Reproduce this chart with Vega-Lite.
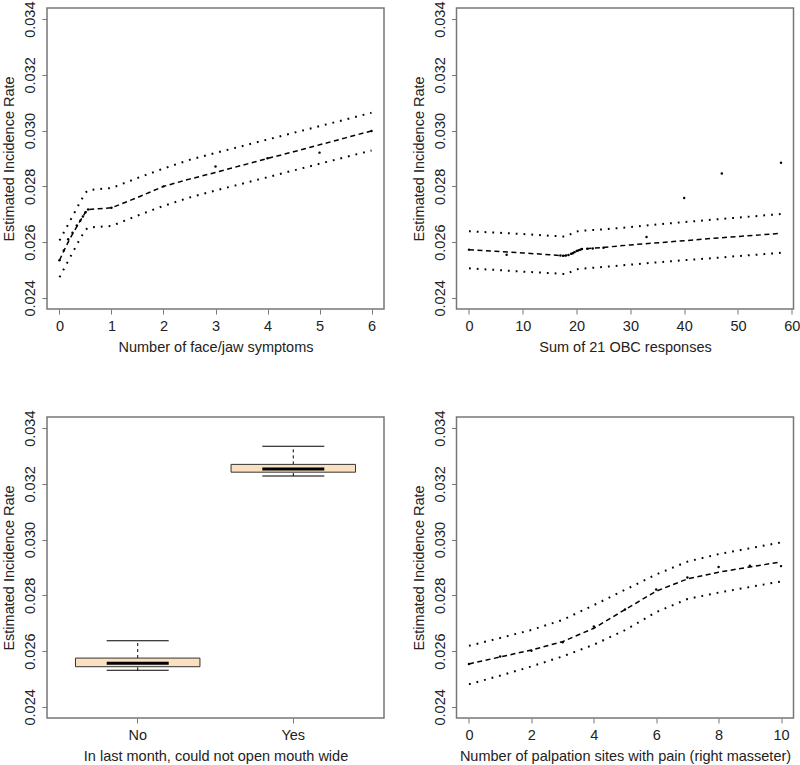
{
  "$schema": "https://vega.github.io/schema/vega-lite/v6.json",
  "background": "white",
  "padding": {"left": 0, "top": 0, "right": 0, "bottom": 2},
  "datasets": {
    "p1lines": [
      {"x": 0, "lo": 0.02474, "est": 0.02535, "hi": 0.02606},
      {"x": 0.1, "lo": 0.02509, "est": 0.02575, "hi": 0.0264},
      {"x": 0.2, "lo": 0.02544, "est": 0.02612, "hi": 0.02675},
      {"x": 0.3, "lo": 0.02579, "est": 0.02645, "hi": 0.0271},
      {"x": 0.4, "lo": 0.02614, "est": 0.02677, "hi": 0.02745},
      {"x": 0.5, "lo": 0.02643, "est": 0.02707, "hi": 0.02777},
      {"x": 0.55, "lo": 0.02652, "est": 0.02717, "hi": 0.02786},
      {"x": 0.75, "lo": 0.02655, "est": 0.0272, "hi": 0.0279},
      {"x": 1, "lo": 0.02658, "est": 0.02723, "hi": 0.02794},
      {"x": 1.5, "lo": 0.02695, "est": 0.0276, "hi": 0.0283},
      {"x": 2, "lo": 0.0273, "est": 0.028, "hi": 0.02864},
      {"x": 2.5, "lo": 0.0276, "est": 0.02826, "hi": 0.02895},
      {"x": 3, "lo": 0.02785, "est": 0.0285, "hi": 0.0292},
      {"x": 3.5, "lo": 0.02809, "est": 0.02875, "hi": 0.02944},
      {"x": 4, "lo": 0.02833, "est": 0.029, "hi": 0.02968},
      {"x": 4.5, "lo": 0.02857, "est": 0.02924, "hi": 0.02992},
      {"x": 5, "lo": 0.02881, "est": 0.02949, "hi": 0.03016},
      {"x": 5.5, "lo": 0.02905, "est": 0.02974, "hi": 0.0304},
      {"x": 6, "lo": 0.02929, "est": 0.02999, "hi": 0.03064}
    ],
    "p1pts": [
      {"x": 0, "v": 0.02535}, {"x": 0.083, "v": 0.0257}, {"x": 0.167, "v": 0.0261},
      {"x": 0.25, "v": 0.02634}, {"x": 0.333, "v": 0.0266}, {"x": 0.4, "v": 0.02677},
      {"x": 0.45, "v": 0.02692}, {"x": 0.5, "v": 0.02707}, {"x": 0.55, "v": 0.02717},
      {"x": 1, "v": 0.02723}, {"x": 2, "v": 0.028}, {"x": 3, "v": 0.02871},
      {"x": 4, "v": 0.02901}, {"x": 5, "v": 0.02921}, {"x": 6, "v": 0.02999}
    ],
    "p2lines": [
      {"x": 0, "lo": 0.02506, "est": 0.02573, "hi": 0.02639},
      {"x": 5, "lo": 0.025, "est": 0.02567, "hi": 0.02634},
      {"x": 10, "lo": 0.02494, "est": 0.02561, "hi": 0.02629},
      {"x": 15, "lo": 0.02489, "est": 0.02555, "hi": 0.02623},
      {"x": 17.5, "lo": 0.02486, "est": 0.02551, "hi": 0.0262},
      {"x": 18, "lo": 0.02485, "est": 0.02552, "hi": 0.0262},
      {"x": 18.5, "lo": 0.02488, "est": 0.02554, "hi": 0.02624},
      {"x": 19, "lo": 0.02494, "est": 0.02558, "hi": 0.0263},
      {"x": 19.5, "lo": 0.025, "est": 0.02563, "hi": 0.02636},
      {"x": 20, "lo": 0.02502, "est": 0.02568, "hi": 0.02638},
      {"x": 20.5, "lo": 0.02504, "est": 0.02572, "hi": 0.0264},
      {"x": 21, "lo": 0.02505, "est": 0.02575, "hi": 0.02641},
      {"x": 25, "lo": 0.02511, "est": 0.02581, "hi": 0.02646},
      {"x": 30, "lo": 0.02519, "est": 0.0259, "hi": 0.02654},
      {"x": 36, "lo": 0.02529, "est": 0.02599, "hi": 0.02665},
      {"x": 40, "lo": 0.02535, "est": 0.02605, "hi": 0.02672},
      {"x": 45, "lo": 0.02542, "est": 0.02613, "hi": 0.0268},
      {"x": 50, "lo": 0.0255, "est": 0.0262, "hi": 0.02688},
      {"x": 55, "lo": 0.02557, "est": 0.02627, "hi": 0.02696},
      {"x": 58, "lo": 0.02562, "est": 0.02632, "hi": 0.02701}
    ],
    "p2pts": [
      {"x": 0, "v": 0.02573}, {"x": 7, "v": 0.02555}, {"x": 17, "v": 0.02552},
      {"x": 17.5, "v": 0.02551}, {"x": 18, "v": 0.02552}, {"x": 18.5, "v": 0.02554},
      {"x": 19, "v": 0.02558}, {"x": 19.3, "v": 0.0256}, {"x": 19.6, "v": 0.02564},
      {"x": 20, "v": 0.02568}, {"x": 20.3, "v": 0.0257}, {"x": 20.7, "v": 0.02573},
      {"x": 21, "v": 0.02575}, {"x": 22, "v": 0.02576}, {"x": 23, "v": 0.02577},
      {"x": 25, "v": 0.0258}, {"x": 33, "v": 0.02618}, {"x": 40, "v": 0.02758},
      {"x": 47, "v": 0.02846}, {"x": 58, "v": 0.02885}
    ],
    "p3box": [
      {"grp": "No", "lower": 0.02531, "q1": 0.02544, "median": 0.02556, "q3": 0.02575, "upper": 0.02637},
      {"grp": "Yes", "lower": 0.03228, "q1": 0.03242, "median": 0.03253, "q3": 0.0327, "upper": 0.03335}
    ],
    "p4lines": [
      {"x": 0, "lo": 0.02481, "est": 0.02554, "hi": 0.02619},
      {"x": 1, "lo": 0.02512, "est": 0.02579, "hi": 0.02647},
      {"x": 2, "lo": 0.02545, "est": 0.02604, "hi": 0.02676},
      {"x": 3, "lo": 0.02581, "est": 0.02634, "hi": 0.02712},
      {"x": 4, "lo": 0.02623, "est": 0.02682, "hi": 0.02765},
      {"x": 5, "lo": 0.02675, "est": 0.02749, "hi": 0.0282},
      {"x": 6, "lo": 0.0274, "est": 0.02815, "hi": 0.02875},
      {"x": 7, "lo": 0.02787, "est": 0.02859, "hi": 0.02921},
      {"x": 8, "lo": 0.0281, "est": 0.02883, "hi": 0.02948},
      {"x": 9, "lo": 0.0283, "est": 0.02902, "hi": 0.02969},
      {"x": 10, "lo": 0.0285, "est": 0.0292, "hi": 0.0299}
    ],
    "p4pts": [
      {"x": 0, "v": 0.02554}, {"x": 1, "v": 0.02581}, {"x": 2, "v": 0.02601},
      {"x": 3, "v": 0.02632}, {"x": 4, "v": 0.02688}, {"x": 5, "v": 0.02749},
      {"x": 6, "v": 0.02821}, {"x": 7, "v": 0.02864}, {"x": 8, "v": 0.02902},
      {"x": 9, "v": 0.02906}, {"x": 10, "v": 0.02905}
    ]
  },
  "columns": 2,
  "spacing": {"row": 108, "column": 72.5},
  "bounds": "flush",
  "concat": [
    {
      "width": 337, "height": 301,
      "encoding": {
        "x": {"field": "x", "type": "quantitative", "scale": {"domain": [-0.24, 6.24], "nice": false, "zero": false},
              "axis": {"title": "Number of face/jaw symptoms", "values": [0, 1, 2, 3, 4, 5, 6]}}
      },
      "layer": [
        {"data": {"name": "p1lines"}, "mark": {"type": "line", "color": "black", "strokeWidth": 2, "strokeDash": [1.8, 6]},
         "encoding": {"y": {"field": "hi", "type": "quantitative", "title": "Estimated Incidence Rate", "scale": {"domain": [0.0236, 0.0344], "nice": false, "zero": false}, "axis": {"values": [0.024, 0.026, 0.028, 0.03, 0.032, 0.034], "format": ".3f"}}}},
        {"data": {"name": "p1lines"}, "mark": {"type": "line", "color": "black", "strokeWidth": 2, "strokeDash": [1.8, 6]},
         "encoding": {"y": {"field": "lo", "type": "quantitative", "title": "Estimated Incidence Rate"}}},
        {"data": {"name": "p1lines"}, "mark": {"type": "line", "color": "black", "strokeWidth": 1.5, "strokeDash": [5, 3.5]},
         "encoding": {"y": {"field": "est", "type": "quantitative", "title": "Estimated Incidence Rate"}}},
        {"data": {"name": "p1pts"}, "mark": {"type": "circle", "color": "black", "size": 6, "opacity": 1},
         "encoding": {"y": {"field": "v", "type": "quantitative", "title": "Estimated Incidence Rate"}}}
      ]
    },
    {
      "width": 337, "height": 301,
      "encoding": {
        "x": {"field": "x", "type": "quantitative", "scale": {"domain": [-2.32, 60.32], "nice": false, "zero": false},
              "axis": {"title": "Sum of 21 OBC responses", "values": [0, 10, 20, 30, 40, 50, 60]}}
      },
      "layer": [
        {"data": {"name": "p2lines"}, "mark": {"type": "line", "color": "black", "strokeWidth": 2, "strokeDash": [1.8, 6]},
         "encoding": {"y": {"field": "hi", "type": "quantitative", "title": "Estimated Incidence Rate", "scale": {"domain": [0.0236, 0.0344], "nice": false, "zero": false}, "axis": {"values": [0.024, 0.026, 0.028, 0.03, 0.032, 0.034], "format": ".3f"}}}},
        {"data": {"name": "p2lines"}, "mark": {"type": "line", "color": "black", "strokeWidth": 2, "strokeDash": [1.8, 6]},
         "encoding": {"y": {"field": "lo", "type": "quantitative", "title": "Estimated Incidence Rate"}}},
        {"data": {"name": "p2lines"}, "mark": {"type": "line", "color": "black", "strokeWidth": 1.5, "strokeDash": [5, 3.5]},
         "encoding": {"y": {"field": "est", "type": "quantitative", "title": "Estimated Incidence Rate"}}},
        {"data": {"name": "p2pts"}, "mark": {"type": "circle", "color": "black", "size": 6, "opacity": 1},
         "encoding": {"y": {"field": "v", "type": "quantitative", "title": "Estimated Incidence Rate"}}}
      ]
    },
    {
      "width": 337, "height": 301,
      "data": {"name": "p3box"},
      "encoding": {
        "x": {"field": "grp", "type": "nominal", "scale": {"domain": ["No", "Yes"], "paddingInner": 0.2, "paddingOuter": 0.183},
              "axis": {"title": "In last month, could not open mouth wide", "labelAngle": 0, "bandPosition": 0.5}}
      },
      "layer": [
        {"mark": {"type": "rule", "color": "black", "strokeWidth": 1, "strokeDash": [3, 3]},
         "encoding": {"y": {"field": "q3", "type": "quantitative", "title": "Estimated Incidence Rate", "scale": {"domain": [0.0236, 0.0344], "nice": false, "zero": false}, "axis": {"values": [0.024, 0.026, 0.028, 0.03, 0.032, 0.034], "format": ".3f"}}, "y2": {"field": "upper"}}},
        {"mark": {"type": "rule", "color": "black", "strokeWidth": 1, "strokeDash": [3, 3]},
         "encoding": {"y": {"field": "lower", "type": "quantitative", "title": "Estimated Incidence Rate"}, "y2": {"field": "q1"}}},
        {"mark": {"type": "tick", "color": "black", "size": 62, "thickness": 1, "opacity": 1},
         "encoding": {"y": {"field": "upper", "type": "quantitative", "title": "Estimated Incidence Rate"}}},
        {"mark": {"type": "tick", "color": "black", "size": 62, "thickness": 1, "opacity": 1},
         "encoding": {"y": {"field": "lower", "type": "quantitative", "title": "Estimated Incidence Rate"}}},
        {"mark": {"type": "bar", "fill": "#FBE0C0", "stroke": "#333333", "strokeWidth": 1},
         "encoding": {"y": {"field": "q1", "type": "quantitative", "title": "Estimated Incidence Rate"}, "y2": {"field": "q3"}}},
        {"mark": {"type": "tick", "color": "black", "size": 62, "thickness": 3, "opacity": 1},
         "encoding": {"y": {"field": "median", "type": "quantitative", "title": "Estimated Incidence Rate"}}}
      ]
    },
    {
      "width": 337, "height": 301,
      "encoding": {
        "x": {"field": "x", "type": "quantitative", "scale": {"domain": [-0.4, 10.4], "nice": false, "zero": false},
              "axis": {"title": "Number of palpation sites with pain (right masseter)", "values": [0, 2, 4, 6, 8, 10]}}
      },
      "layer": [
        {"data": {"name": "p4lines"}, "mark": {"type": "line", "color": "black", "strokeWidth": 2, "strokeDash": [1.8, 6]},
         "encoding": {"y": {"field": "hi", "type": "quantitative", "title": "Estimated Incidence Rate", "scale": {"domain": [0.0236, 0.0344], "nice": false, "zero": false}, "axis": {"values": [0.024, 0.026, 0.028, 0.03, 0.032, 0.034], "format": ".3f"}}}},
        {"data": {"name": "p4lines"}, "mark": {"type": "line", "color": "black", "strokeWidth": 2, "strokeDash": [1.8, 6]},
         "encoding": {"y": {"field": "lo", "type": "quantitative", "title": "Estimated Incidence Rate"}}},
        {"data": {"name": "p4lines"}, "mark": {"type": "line", "color": "black", "strokeWidth": 1.5, "strokeDash": [5, 3.5]},
         "encoding": {"y": {"field": "est", "type": "quantitative", "title": "Estimated Incidence Rate"}}},
        {"data": {"name": "p4pts"}, "mark": {"type": "circle", "color": "black", "size": 6, "opacity": 1},
         "encoding": {"y": {"field": "v", "type": "quantitative", "title": "Estimated Incidence Rate"}}}
      ]
    }
  ],
  "config": {
    "view": {"stroke": "#777777", "strokeWidth": 1.5},
    "font": "Liberation Sans",
    "axis": {
      "domain": false, "grid": false,
      "labelFont": "Liberation Sans", "labelFontSize": 14.5, "labelColor": "#222222",
      "titleFont": "Liberation Sans", "titleFontSize": 14.5, "titleFontWeight": "normal", "titleColor": "#222222",
      "tickColor": "#777777", "tickSize": 5, "tickWidth": 1,
      "labelPadding": 5, "titlePadding": 8
    },
    "axisY": {"labelAngle": -90, "labelAlign": "center", "labelBaseline": "bottom", "labelPadding": 4.5, "titlePadding": 6},
    "axisX": {"labelFlush": false}
  }
}
